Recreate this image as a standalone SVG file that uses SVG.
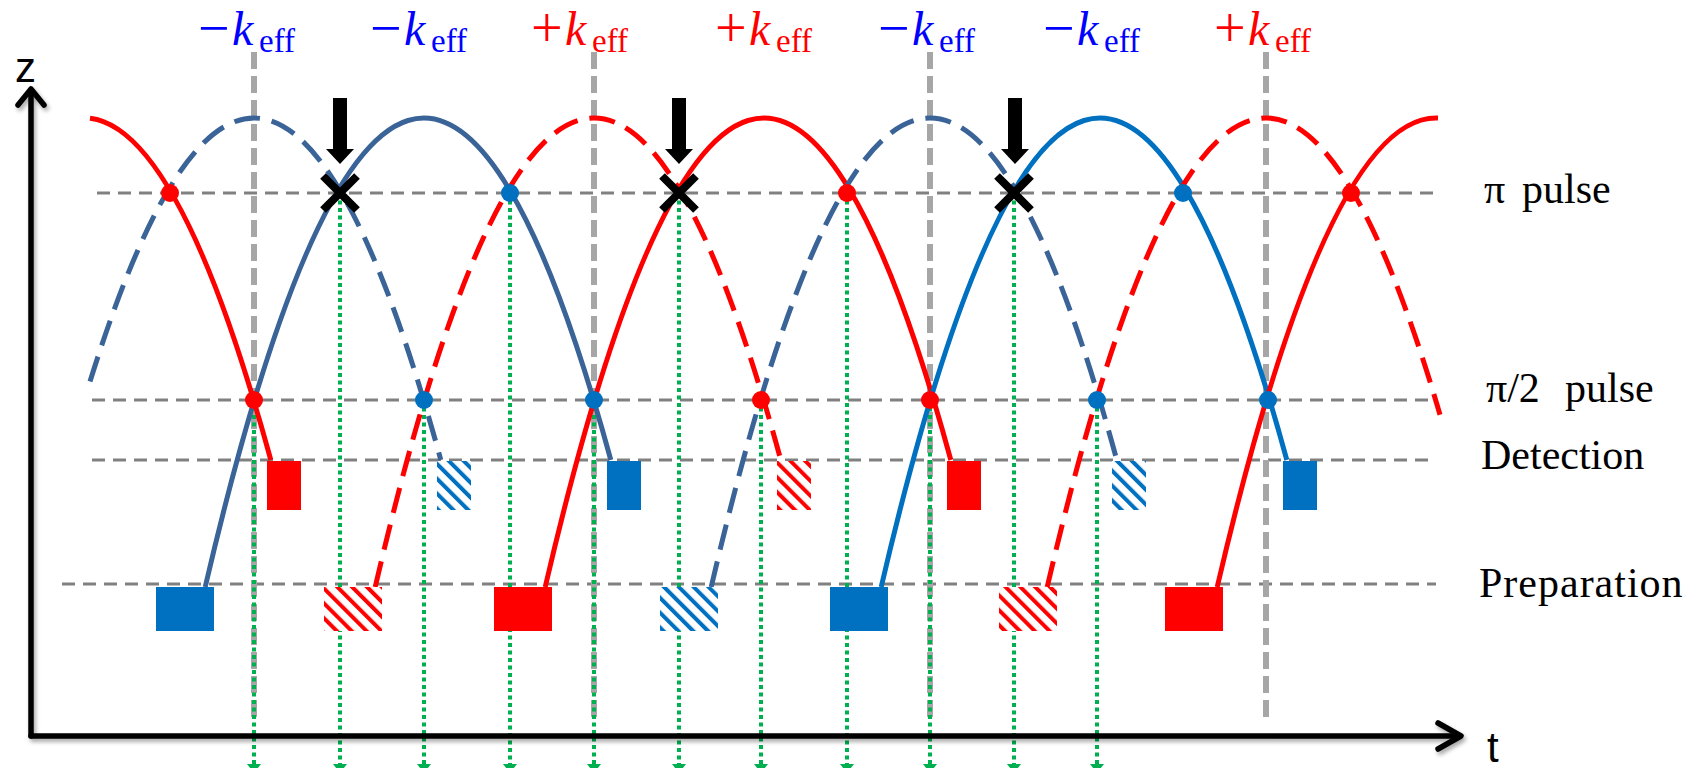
<svg xmlns="http://www.w3.org/2000/svg" width="1691" height="768" viewBox="0 0 1691 768">
<defs>
<style>
.hl{fill:none;stroke:#808080;stroke-width:3;stroke-dasharray:13 8}
.vl{fill:none;stroke:#a6a6a6;stroke-width:6;stroke-dasharray:17 7}
.gl{fill:none;stroke:#00b050;stroke-width:4;stroke-dasharray:4 3.5;marker-end:url(#gArrow)}
.arc{fill:none;stroke-width:5}
.dash{stroke-dasharray:26 12}
.r{stroke:#ff0000}
.sb{stroke:#3a6398}
.bb{stroke:#0070c0}
.fr{fill:#ff0000}
.fb{fill:#0070c0}
.hr{fill:url(#hatchR)}
.hb{fill:url(#hatchB)}
.xm{stroke:#000;stroke-width:8;fill:none}
.ax{stroke:#000;stroke-width:5.5;fill:none;stroke-linecap:round;stroke-linejoin:round}
.lbl{font-family:'Liberation Serif','DejaVu Serif',serif;font-size:42px;fill:#000}
.axt{font-family:'Liberation Sans','DejaVu Sans',sans-serif;font-size:42px;fill:#000}
.k{font-family:'Liberation Serif','DejaVu Serif',serif;font-size:48px}
.kb{fill:#0000ff}
.kr{fill:#ff0000}
.sg{font-size:56px}
.kk{font-style:italic}
.sub{font-size:33px}
</style>
<marker id="gArrow" viewBox="0 -8 10 16" refX="0" refY="0" markerWidth="10" markerHeight="16" markerUnits="userSpaceOnUse" orient="auto"><path d="M0,-7 L9,0 L0,7 Z" fill="#00b050"/></marker>
<pattern id="hatchR" patternUnits="userSpaceOnUse" width="10.5" height="10.5" patternTransform="rotate(-45)"><rect width="10.5" height="10.5" fill="#ffffff"/><rect width="4" height="10.5" fill="#ff0000"/></pattern>
<pattern id="hatchB" patternUnits="userSpaceOnUse" width="10.5" height="10.5" patternTransform="rotate(-45)"><rect width="10.5" height="10.5" fill="#ffffff"/><rect width="4" height="10.5" fill="#0070c0"/></pattern>
<filter id="shadow" x="-2%" y="-2%" width="104%" height="104%"><feDropShadow dx="2" dy="3" stdDeviation="2" flood-color="#000" flood-opacity="0.35"/></filter>
</defs>
<rect width="1691" height="768" fill="#ffffff"/>

<g id="level-lines">
<line class="hl" x1="97" y1="193" x2="1436" y2="193"/>
<line class="hl" x1="92" y1="400" x2="1436" y2="400"/>
<line class="hl" x1="92" y1="460" x2="1436" y2="460"/>
<line class="hl" x1="62" y1="584" x2="1436" y2="584"/>
</g>

<g id="keff-lines">
<line class="vl" x1="254" y1="52" x2="254" y2="717"/>
<line class="vl" x1="594" y1="52" x2="594" y2="717"/>
<line class="vl" x1="930" y1="52" x2="930" y2="717"/>
<line class="vl" x1="1266" y1="52" x2="1266" y2="717"/>
</g>

<g id="connectors">
<line class="gl" x1="254" y1="400" x2="254" y2="764"/>
<line class="gl" x1="340" y1="193" x2="340" y2="764"/>
<line class="gl" x1="424" y1="400" x2="424" y2="764"/>
<line class="gl" x1="510" y1="193" x2="510" y2="764"/>
<line class="gl" x1="594" y1="400" x2="594" y2="764"/>
<line class="gl" x1="679" y1="193" x2="679" y2="764"/>
<line class="gl" x1="761" y1="400" x2="761" y2="764"/>
<line class="gl" x1="847" y1="193" x2="847" y2="764"/>
<line class="gl" x1="930" y1="400" x2="930" y2="764"/>
<line class="gl" x1="1014" y1="193" x2="1014" y2="764"/>
<line class="gl" x1="1097" y1="400" x2="1097" y2="764"/>
</g>

<g id="trajectories">
<path id="arc-A" class="arc r" transform="translate(84,118)" d="M6,0.35 Q96.4,11 186.8,342"/>
<path id="arc-B" class="arc sb dash" transform="translate(254,118)" d="M-164,263.6 Q11.4,-300.2 186.8,342"/>
<path id="arc-C" class="arc sb" transform="translate(424,118)" d="M-218.8,469 Q-16,-400.5 186.8,342"/>
<path id="arc-D" class="arc r dash" transform="translate(594,118)" d="M-218.8,469 Q-16,-400.5 186.8,342"/>
<path id="arc-E" class="arc r" transform="translate(764,118)" d="M-218.8,469 Q-16,-400.5 186.8,342"/>
<path id="arc-F" class="arc sb dash" transform="translate(930,118)" d="M-218.8,469 Q-16,-400.5 186.8,342"/>
<path id="arc-G" class="arc bb" transform="translate(1100,118)" d="M-218.8,469 Q-16,-400.5 186.8,342"/>
<path id="arc-H" class="arc r dash" transform="translate(1266,118)" d="M-218.8,469 Q-22.4,-373.1 174,296.7"/>
<path id="arc-I" class="arc r" transform="translate(1436,118)" d="M-218.8,469 Q-108.4,-4.3 2,0.04"/>
</g>

<g id="detection-boxes">
<rect id="det-1" class="fr" x="267" y="461" width="34" height="49"/>
<rect id="det-2" class="hb" x="437" y="461" width="34" height="49"/>
<rect id="det-3" class="fb" x="607" y="461" width="34" height="49"/>
<rect id="det-4" class="hr" x="777" y="461" width="34" height="49"/>
<rect id="det-5" class="fr" x="947" y="461" width="34" height="49"/>
<rect id="det-6" class="hb" x="1112" y="461" width="34" height="49"/>
<rect id="det-7" class="fb" x="1283" y="461" width="34" height="49"/>
</g>

<g id="preparation-boxes">
<rect id="prep-1" class="fb" x="156" y="587" width="58" height="44"/>
<rect id="prep-2" class="hr" x="324" y="587" width="58" height="44"/>
<rect id="prep-3" class="fr" x="494" y="587" width="58" height="44"/>
<rect id="prep-4" class="hb" x="660" y="587" width="58" height="44"/>
<rect id="prep-5" class="fb" x="830" y="587" width="58" height="44"/>
<rect id="prep-6" class="hr" x="999" y="587" width="58" height="44"/>
<rect id="prep-7" class="fr" x="1165" y="587" width="58" height="44"/>
</g>

<g id="pulse-dots">
<circle cx="170" cy="193" r="9" fill="#ff0000"/>
<circle cx="510" cy="193" r="9" fill="#0070c0"/>
<circle cx="847" cy="193" r="9" fill="#ff0000"/>
<circle cx="1183" cy="193" r="9" fill="#0070c0"/>
<circle cx="1351" cy="193" r="9" fill="#ff0000"/>
<circle cx="254" cy="400" r="9" fill="#ff0000"/>
<circle cx="424" cy="400" r="9" fill="#0070c0"/>
<circle cx="594" cy="400" r="9" fill="#0070c0"/>
<circle cx="761" cy="400" r="9" fill="#ff0000"/>
<circle cx="930" cy="400" r="9" fill="#ff0000"/>
<circle cx="1097" cy="400" r="9" fill="#0070c0"/>
<circle cx="1268" cy="400" r="9" fill="#0070c0"/>
</g>

<g id="cross-marks">
<path class="xm" d="M323,176 L357,210 M357,176 L323,210"/>
<path class="xm" d="M662,176 L696,210 M696,176 L662,210"/>
<path class="xm" d="M997,176 L1031,210 M1031,176 L997,210"/>
</g>

<g id="down-arrows" fill="#000">
<polygon points="333,98 347,98 347,149 354,149 340,164 326,149 333,149"/>
<polygon points="672,98 686,98 686,149 693,149 679,164 665,149 672,149"/>
<polygon points="1008,98 1022,98 1022,149 1029,149 1015,164 1001,149 1008,149"/>
</g>

<g id="keff-labels">
<g id="label-1"><text class="k kb"><tspan class="sg" x="198" y="47">−</tspan><tspan class="kk" x="232" y="45">k</tspan><tspan class="sub" x="259" y="52">eff</tspan></text></g>
<g id="label-2"><text class="k kb"><tspan class="sg" x="370" y="47">−</tspan><tspan class="kk" x="404" y="45">k</tspan><tspan class="sub" x="431" y="52">eff</tspan></text></g>
<g id="label-3"><text class="k kr"><tspan class="sg" x="531" y="47">+</tspan><tspan class="kk" x="565" y="45">k</tspan><tspan class="sub" x="592" y="52">eff</tspan></text></g>
<g id="label-4"><text class="k kr"><tspan class="sg" x="715" y="47">+</tspan><tspan class="kk" x="749" y="45">k</tspan><tspan class="sub" x="776" y="52">eff</tspan></text></g>
<g id="label-5"><text class="k kb"><tspan class="sg" x="878" y="47">−</tspan><tspan class="kk" x="912" y="45">k</tspan><tspan class="sub" x="939" y="52">eff</tspan></text></g>
<g id="label-6"><text class="k kb"><tspan class="sg" x="1043" y="47">−</tspan><tspan class="kk" x="1077" y="45">k</tspan><tspan class="sub" x="1104" y="52">eff</tspan></text></g>
<g id="label-7"><text class="k kr"><tspan class="sg" x="1214" y="47">+</tspan><tspan class="kk" x="1248" y="45">k</tspan><tspan class="sub" x="1275" y="52">eff</tspan></text></g>
</g>

<g id="level-labels">
<text class="lbl" x="1484" y="203">π <tspan x="1522">pulse</tspan></text>
<text class="lbl" x="1486" y="402">π/2 <tspan x="1565">pulse</tspan></text>
<text class="lbl" x="1481" y="469">Detection</text>
<text class="lbl" x="1479" y="597" letter-spacing="1">Preparation</text>
</g>

<g id="axes" filter="url(#shadow)">
<path class="ax" d="M31,736 L31,90"/>
<path class="ax" d="M18,105 L31,89 L44,105"/>
<path class="ax" d="M31,736 L1460,736"/>
<path class="ax" d="M1438,723 L1461,736 L1438,749"/>
</g>
<text class="axt" x="15" y="82">z</text>
<text class="axt" x="1487" y="762">t</text>
</svg>
